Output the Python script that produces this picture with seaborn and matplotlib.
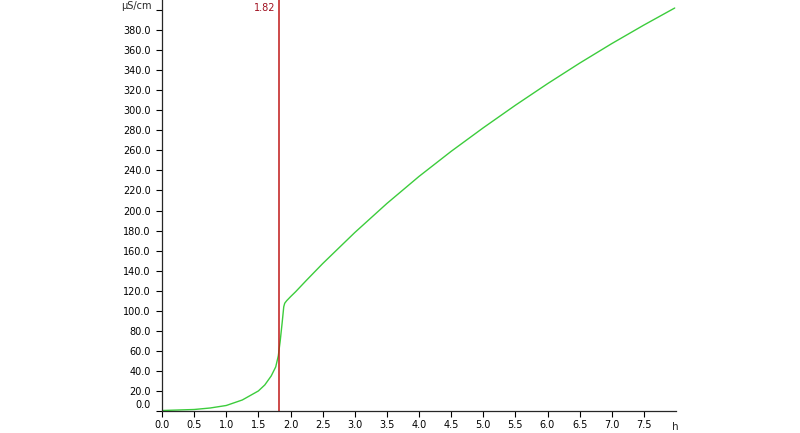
import numpy as np
import pandas as pd
import seaborn as sns
import matplotlib.pyplot as plt
from matplotlib.transforms import ScaledTranslation

sns.set_style("ticks")
plt.rcParams['font.family'] = ['DejaVu Sans']

# conductivity curve
hours = [0.0, 0.25, 0.5, 0.75, 1.0, 1.25, 1.5, 1.6, 1.7, 1.77, 1.81, 1.84, 1.87,
         1.895, 1.91, 1.94, 2.0, 2.08, 2.25, 2.5, 2.75, 3.0, 3.5, 4.0, 4.5, 5.0,
         5.5, 6.0, 6.5, 7.0, 7.5, 7.98]
conductivity = [0.5, 1.0, 1.5, 3.0, 5.5, 11.0, 20.0, 26.0, 35.0, 44.0, 55.0, 70.0,
                88.0, 104.0, 107.5, 110.0, 114.0, 119.0, 130.5, 147.0, 162.5, 178.0,
                207.0, 234.0, 259.0, 282.5, 305.0, 326.5, 347.0, 366.5, 385.0, 402.0]
marker_h = 1.82
x_ticks = [0.0, 0.5, 1.0, 1.5, 2.0, 2.5, 3.0, 3.5, 4.0, 4.5, 5.0, 5.5, 6.0, 6.5, 7.0, 7.5]
y_ticks = list(range(0, 420, 20))

df = pd.DataFrame({"h": hours, "uS": conductivity})

fig = plt.figure(figsize=(8, 4.33), dpi=100)
ax = fig.add_axes([0.2025, 0.0508, 0.6425, 0.9492])

sns.lineplot(data=df, x="h", y="uS", ax=ax, color="#3ccc3c", linewidth=1.0)
ax.axvline(marker_h, color="#c01818", linewidth=1.1)
ax.text(marker_h - 0.06, 402, f"{marker_h:.2f}", color="#a01020", fontsize=7,
        ha="right", va="center")

ax.set_xlim(0, 8.0)
ax.set_ylim(0, 410)
ax.set_xticks(x_ticks)
ax.set_xticklabels([f"{v:.1f}" for v in x_ticks])
ax.set_yticks(y_ticks)
ylabels = [f"{v:.1f}" for v in y_ticks]
ylabels[-1] = ""
ax.set_yticklabels(ylabels)
ax.tick_params(labelsize=7, length=4, width=0.8, colors="black")
ax.tick_params(axis="x", pad=2.5)
ax.tick_params(axis="y", pad=4)

# nudge the 0.0 label up like the original
lbl0 = ax.get_yticklabels()[0]
lbl0.set_transform(lbl0.get_transform() + ScaledTranslation(0, 5 / 72, fig.dpi_scale_trans))

ax.set_xlabel("")
ax.set_ylabel("")
ax.text(-0.02, 404, "µS/cm", fontsize=7, ha="right", va="center",
        transform=ax.get_yaxis_transform())
ax.text(8.0 - 0.07, -16, "h", fontsize=7.5, ha="left", va="center", clip_on=False)

for s in ["top", "right"]:
    ax.spines[s].set_visible(False)
ax.spines["left"].set_linewidth(0.9)
ax.spines["bottom"].set_linewidth(0.9)

fig.savefig("out.png", dpi=100)
